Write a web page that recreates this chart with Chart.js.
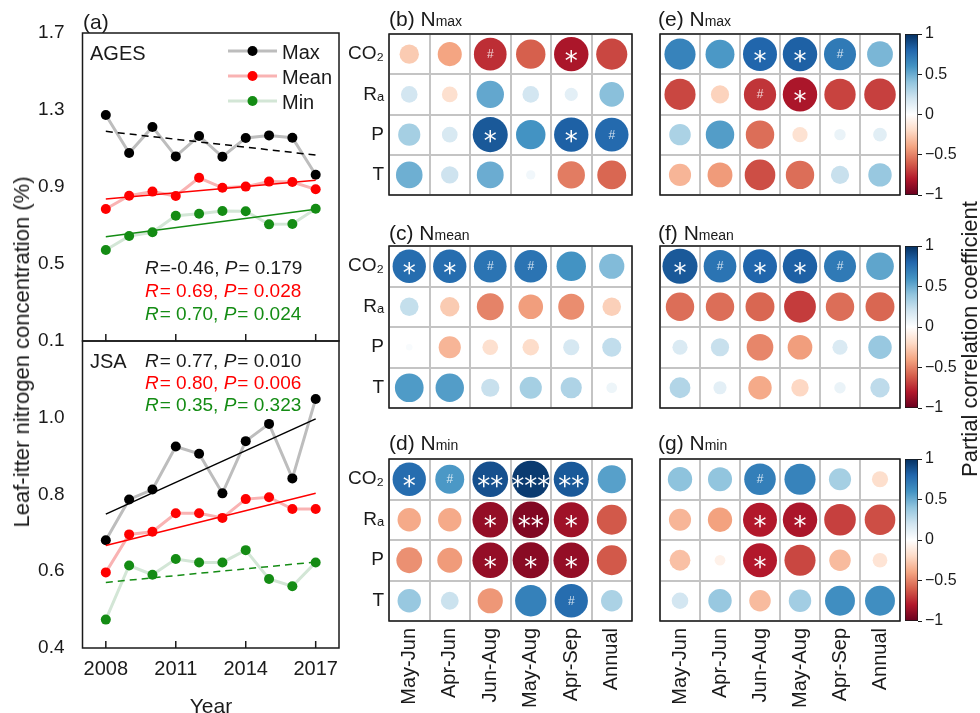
<!DOCTYPE html>
<html>
<head>
<meta charset="utf-8">
<script src="https://cdn.jsdelivr.net/npm/chart.js@4.4.1/dist/chart.umd.min.js"></script>
<style>
  body { margin: 0; background: #fff; }
  #wrap { position: relative; width: 980px; height: 713px; overflow: hidden;
          font-family: "Liberation Sans", Arial, sans-serif; color: #1a1a1a; }
  canvas { position: absolute; }
  .t { position: absolute; white-space: nowrap; line-height: 1; }
  .t i { font-style: italic; margin-right: 1px; }
  .t small { font-size: 14px; }
</style>
</head>
<body>
<div id="wrap">
  <canvas id="aTop" width="345" height="713" style="left:0;top:0"></canvas>
  <canvas id="aBot" width="345" height="713" style="left:0;top:0"></canvas>
</div>
<script>
// ---- panel (a) data ----
const years = [2008, 2009, 2010, 2011, 2012, 2013, 2014, 2015, 2016, 2017];
const yearTicks = [2008, 2011, 2014, 2017];
const trendYears = [2008, 2017];

const agesMax  = [1.274, 1.077, 1.212, 1.059, 1.165, 1.057, 1.155, 1.168, 1.156, 0.964];
const agesMean = [0.786, 0.855, 0.876, 0.853, 0.948, 0.896, 0.902, 0.928, 0.926, 0.888];
const agesMin  = [0.573, 0.645, 0.665, 0.751, 0.761, 0.775, 0.774, 0.706, 0.708, 0.787];
const agesTrendMax  = [1.189, 1.066];
const agesTrendMean = [0.838, 0.935];
const agesTrendMin  = [0.642, 0.784];

const jsaMax  = [0.681, 0.787, 0.813, 0.925, 0.906, 0.803, 0.939, 0.984, 0.842, 1.049];
const jsaMean = [0.597, 0.696, 0.703, 0.751, 0.751, 0.739, 0.788, 0.793, 0.762, 0.762];
const jsaMin  = [0.474, 0.615, 0.591, 0.632, 0.623, 0.623, 0.655, 0.580, 0.561, 0.623];
const jsaTrendMax  = [0.749, 0.997];
const jsaTrendMean = [0.667, 0.803];
const jsaTrendMin  = [0.571, 0.624];

const agesTicks = [0.1, 0.5, 0.9, 1.3, 1.7];
const jsaTicks = [0.4, 0.6, 0.8, 1.0];

// ---- correlation matrices (rows: CO2, Ra, P, T) ----
const rowLabels = ['CO\u2082', 'R\u2090', 'P', 'T'];
const colLabels = ['May-Jun', 'Apr-Jun', 'Jun-Aug', 'May-Aug', 'Apr-Sep', 'Annual'];

const corrB = [[-0.26, -0.40, -0.74, -0.60, -0.82, -0.67],
               [ 0.19, -0.17,  0.52,  0.19,  0.12,  0.42],
               [ 0.34,  0.17,  0.85,  0.60,  0.82,  0.78],
               [ 0.49,  0.21,  0.50,  0.06, -0.52, -0.58]];
const sigB  = [['', '', '#', '', '*', ''], ['', '', '', '', '', ''],
               ['', '', '*', '', '*', '#'], ['', '', '', '', '', '']];

const corrC = [[ 0.77,  0.77,  0.74,  0.74,  0.60,  0.44],
               [ 0.24, -0.26, -0.50, -0.42, -0.47, -0.24],
               [ 0.03, -0.34, -0.17, -0.19,  0.18,  0.25],
               [ 0.57,  0.56,  0.23,  0.34,  0.31,  0.08]];
const sigC  = [['*', '*', '#', '#', '', ''], ['', '', '', '', '', ''],
               ['', '', '', '', '', ''], ['', '', '', '', '', '']];

const corrD = [[ 0.77,  0.58,  0.88,  0.96,  0.85,  0.55],
               [-0.38, -0.38, -0.88, -0.93, -0.85, -0.62],
               [-0.46, -0.43, -0.88, -0.91, -0.88, -0.62],
               [ 0.38,  0.22, -0.44,  0.68,  0.77,  0.32]];
const sigD  = [['*', '#', '**', '***', '**', ''], ['', '', '*', '**', '*', ''],
               ['', '', '*', '*', '*', ''], ['', '', '', '', '#', '']];

const corrE = [[ 0.67,  0.58,  0.80,  0.82,  0.71,  0.46],
               [-0.67, -0.23, -0.72, -0.82, -0.68, -0.69],
               [ 0.32,  0.56, -0.56, -0.16,  0.09,  0.13],
               [-0.34, -0.43, -0.65, -0.56,  0.23,  0.38]];
const sigE  = [['', '', '*', '*', '#', ''], ['', '', '#', '*', '', ''],
               ['', '', '', '', '', ''], ['', '', '', '', '', '']];

const corrF = [[ 0.85,  0.74,  0.80,  0.82,  0.71,  0.53],
               [-0.56, -0.56, -0.58, -0.70, -0.56, -0.58],
               [ 0.16,  0.23, -0.49, -0.42,  0.16,  0.38],
               [ 0.30,  0.12, -0.38, -0.21,  0.09,  0.26]];
const sigF  = [['*', '#', '*', '*', '#', ''], ['', '', '', '', '', ''],
               ['', '', '', '', '', ''], ['', '', '', '', '', '']];

const corrG = [[ 0.41,  0.40,  0.69,  0.67,  0.34, -0.18],
               [-0.34, -0.41, -0.80, -0.82, -0.69, -0.65],
               [-0.30, -0.08, -0.80, -0.67, -0.32, -0.15],
               [ 0.19,  0.38, -0.32,  0.35,  0.62,  0.62]];
const sigG  = [['', '', '#', '', '', ''], ['', '', '*', '*', '', ''],
               ['', '', '*', '', '', ''], ['', '', '', '', '', '']];

const barTicks = [-1, -0.5, 0, 0.5, 1];

// ---- look ----
const FONT = '"Liberation Sans", Arial, sans-serif';
Chart.defaults.font.family = FONT;
Chart.defaults.color = '#1a1a1a';
const wrap = document.getElementById('wrap');
const rdbuStops = ['#67001F', '#B2182B', '#D6604D', '#F4A582', '#FDDBC7', '#FFFFFF',
                   '#D1E5F0', '#92C5DE', '#4393C3', '#2166AC', '#053061'];
const maxR = 19;

function hex(h) {
  return [1, 3, 5].map(i => parseInt(h.slice(i, i + 2), 16));
}
function rdbu(v) {
  const n = rdbuStops.length - 1;
  const t = (Math.max(-1, Math.min(1, v)) + 1) / 2 * n;
  const i = Math.min(Math.floor(t), n - 1), f = t - i;
  const a = hex(rdbuStops[i]), b = hex(rdbuStops[i + 1]);
  return 'rgb(' + a.map((c, k) => Math.round(c + (b[k] - c) * f)).join(',') + ')';
}

function addText(html, x, y, size, opts = {}) {
  const d = document.createElement('div');
  d.className = 't';
  d.innerHTML = html;
  d.style.fontSize = size + 'px';
  if (opts.color) d.style.color = opts.color;
  if (opts.rotate) {
    d.style.left = x + 'px';
    d.style.top = y + 'px';
    d.style.transform = 'translate(-50%,-50%) rotate(-90deg)';
  } else if (opts.center) {
    d.style.left = x + 'px';
    d.style.top = (y - size * 0.47) + 'px';
    d.style.transform = 'translateX(-50%)';
  } else {
    d.style.left = x + 'px';
    d.style.top = (y - size * 0.47) + 'px';
  }
  wrap.appendChild(d);
}

const boxPlugin = {
  id: 'box',
  afterDraw(chart) {
    const { ctx, chartArea: a } = chart;
    ctx.save();
    ctx.strokeStyle = '#1a1a1a';
    ctx.lineWidth = 1.5;
    ctx.strokeRect(a.left, a.top, a.width, a.height);
    ctx.restore();
  }
};

// small inward tick marks on the year axis
const yearTickPlugin = {
  id: 'yearTicks',
  afterDraw(chart) {
    const { ctx, chartArea: a } = chart;
    const xs = chart.scales.x;
    ctx.save();
    ctx.strokeStyle = '#1a1a1a';
    ctx.lineWidth = 1.5;
    yearTicks.forEach(v => {
      const px = xs.getPixelForValue(v);
      ctx.beginPath();
      ctx.moveTo(px, a.bottom);
      ctx.lineTo(px, a.bottom - 7);
      ctx.stroke();
    });
    ctx.restore();
  }
};

// legend marks (line + dot); the words are html text
const legendPlugin = {
  id: 'miniLegend',
  afterDraw(chart) {
    const ctx = chart.ctx;
    ctx.save();
    chart.data.datasets.slice(0, 3).forEach((ds, i) => {
      const y = 51 + 25 * i;
      ctx.strokeStyle = ds.borderColor;
      ctx.lineWidth = 3;
      ctx.beginPath();
      ctx.moveTo(228, y);
      ctx.lineTo(277, y);
      ctx.stroke();
      ctx.fillStyle = ds.pointBackgroundColor;
      ctx.beginPath();
      ctx.arc(252.5, y, 5, 0, Math.PI * 2);
      ctx.fill();
    });
    ctx.restore();
  }
};

function seriesSet(vals, line, dot) {
  return {
    data: years.map((x, i) => ({ x, y: vals[i] })),
    borderColor: line, borderWidth: 3,
    pointBackgroundColor: dot, pointBorderColor: dot,
    pointRadius: 5, pointBorderWidth: 0, order: 2
  };
}
function trendSet(vals, color, dashed) {
  return {
    data: trendYears.map((x, i) => ({ x, y: vals[i] })),
    borderColor: color, borderWidth: 1.5,
    borderDash: dashed ? [7, 5] : [],
    pointRadius: 0, order: 1
  };
}

const RED = '#ff0000', GREEN = '#148c14';

function linePanel(id, sets, ticks, min, max, padTop, padBottom, showX, extra) {
  return new Chart(document.getElementById(id), {
    type: 'line',
    data: { datasets: sets },
    options: {
      responsive: false, animation: false, events: [],
      layout: { autoPadding: false, padding: { top: padTop, bottom: padBottom, left: 0, right: 6 } },
      plugins: { legend: { display: false }, tooltip: { enabled: false } },
      scales: {
        x: {
          type: 'linear', min: 2007, max: 2018, display: showX,
          afterBuildTicks: s => { s.ticks = yearTicks.map(v => ({ value: v })); },
          afterFit: s => { s.height = showX ? 65 : 0; },
          grid: { display: false }, border: { display: false },
          ticks: { font: { size: 20 }, padding: 1, maxRotation: 0, autoSkip: false,
                   callback: v => String(v) }
        },
        y: {
          min, max,
          afterBuildTicks: s => { s.ticks = ticks.map(v => ({ value: v })); },
          afterFit: s => { s.width = 82.5; },
          grid: { display: false }, border: { display: false },
          ticks: { font: { size: 19 }, padding: 10, callback: v => v.toFixed(1) }
        }
      }
    },
    plugins: [boxPlugin, yearTickPlugin].concat(extra || [])
  });
}

linePanel('aTop', [
  seriesSet(agesMax, '#bdbdbd', '#000000'),
  seriesSet(agesMean, '#f9b3b3', RED),
  seriesSet(agesMin, '#d3e6d6', GREEN),
  trendSet(agesTrendMax, '#000000', true),
  trendSet(agesTrendMean, RED, false),
  trendSet(agesTrendMin, GREEN, false)
], agesTicks, 0.1, 1.7, 33, 372, false, [legendPlugin]);

linePanel('aBot', [
  seriesSet(jsaMax, '#bdbdbd', '#000000'),
  seriesSet(jsaMean, '#f9b3b3', RED),
  seriesSet(jsaMin, '#d3e6d6', GREEN),
  trendSet(jsaTrendMax, '#000000', false),
  trendSet(jsaTrendMean, RED, false),
  trendSet(jsaTrendMin, GREEN, true)
], jsaTicks, 0.4, 1.2, 341, 0, true);

// significance marks drawn on top of the bubbles
const sigPlugin = {
  id: 'sig',
  afterDatasetsDraw(chart) {
    const ctx = chart.ctx;
    const pts = chart.data.datasets[0].data;
    ctx.save();
    ctx.fillStyle = '#ffffff';
    ctx.textAlign = 'center';
    ctx.textBaseline = 'alphabetic';
    chart.getDatasetMeta(0).data.forEach((el, i) => {
      const s = pts[i].s;
      if (!s) return;
      if (s === '#') {
        ctx.globalAlpha = 0.8;
        ctx.font = '12px ' + FONT;
        ctx.fillText('#', el.x, el.y + 4);
        ctx.globalAlpha = 1;
        return;
      }
      ctx.font = '26px "DejaVu Sans"';
      const n = s.length;
      for (let k = 0; k < n; k++) {
        ctx.fillText('*', el.x + (k - (n - 1) / 2) * 13, el.y + 15.5);
      }
    });
    ctx.restore();
  }
};

function matrixPanel(box, vals, sig, showRows, showCols) {
  const axisW = 60, pad = 4, axisH = showCols ? 88 : 0;
  const cv = document.createElement('canvas');
  cv.width = axisW + box.w + pad;
  cv.height = pad + box.h + (showCols ? axisH : pad);
  cv.style.left = (box.x - axisW) + 'px';
  cv.style.top = (box.y - pad) + 'px';
  wrap.appendChild(cv);

  const points = [];
  vals.forEach((row, i) => row.forEach((v, j) => {
    points.push({ x: colLabels[j], y: rowLabels[i], r: maxR * Math.sqrt(Math.abs(v)), v, s: sig[i][j] });
  }));

  const grid = { offset: true, color: '#c4c4c4', lineWidth: 2, drawTicks: false };
  new Chart(cv, {
    type: 'bubble',
    data: {
      datasets: [{
        data: points,
        backgroundColor: c => (c.raw ? rdbu(c.raw.v) : '#ffffff'),
        borderWidth: 0
      }]
    },
    options: {
      responsive: false, animation: false, events: [],
      layout: { autoPadding: false, padding: { top: pad, right: pad, bottom: showCols ? 0 : pad, left: 0 } },
      plugins: { legend: { display: false }, tooltip: { enabled: false } },
      scales: {
        x: {
          type: 'category', labels: colLabels, offset: true, grid,
          border: { display: false },
          ticks: { display: showCols, autoSkip: false, minRotation: 90, maxRotation: 90,
                   font: { size: 20 }, padding: 7 },
          afterFit: s => { s.height = axisH; s.paddingLeft = 0; s.paddingRight = 0; }
        },
        y: {
          type: 'category', labels: rowLabels, offset: true, grid,
          border: { display: false },
          ticks: { display: showRows, font: { size: 19 }, padding: 5 },
          afterFit: s => { s.width = axisW; s.paddingTop = 0; s.paddingBottom = 0; }
        }
      }
    },
    plugins: [boxPlugin, sigPlugin]
  });
}

function colorBar(box) {
  const left = 900, pad = 10, barW = 13;
  const cv = document.createElement('canvas');
  cv.width = 80;
  cv.height = box.h + pad * 2;
  cv.style.left = left + 'px';
  cv.style.top = (box.y - pad) + 'px';
  wrap.appendChild(cv);
  new Chart(cv, {
    type: 'bar',
    data: {
      labels: [''],
      datasets: [{
        data: [[-1, 1]],
        backgroundColor: c => {
          const a = c.chart.chartArea;
          if (!a) return '#ffffff';
          const g = c.chart.ctx.createLinearGradient(0, a.bottom, 0, a.top);
          rdbuStops.forEach((col, i) => g.addColorStop(i / (rdbuStops.length - 1), col));
          return g;
        },
        borderColor: '#1a1a1a', borderWidth: 1, borderSkipped: false,
        barPercentage: 1, categoryPercentage: 1
      }]
    },
    options: {
      responsive: false, animation: false, events: [],
      layout: { autoPadding: false, padding: { top: pad, bottom: pad, left: box.x - left, right: 0 } },
      plugins: { legend: { display: false }, tooltip: { enabled: false } },
      scales: {
        x: { display: false },
        y: {
          position: 'right', min: -1, max: 1,
          afterBuildTicks: s => { s.ticks = barTicks.map(v => ({ value: v })); },
          afterFit: s => { s.width = 80 - (box.x - left) - barW; s.paddingTop = 0; s.paddingBottom = 0; },
          grid: { drawOnChartArea: false, tickLength: 4, color: '#1a1a1a', lineWidth: 1 },
          border: { display: false },
          ticks: { font: { size: 16 }, padding: 3,
                   callback: v => (v === 0 ? '0' : (v < 0 ? '\u2212' : '') + Math.abs(v)) }
        }
      }
    }
  });
}

const boxB = { x: 389, y: 34, w: 243, h: 161 };
const boxC = { x: 389, y: 246, w: 243, h: 162 };
const boxD = { x: 389, y: 459, w: 243, h: 162 };
const boxE = { x: 660, y: 34, w: 240, h: 161 };
const boxF = { x: 660, y: 246, w: 240, h: 162 };
const boxG = { x: 660, y: 459, w: 240, h: 162 };

matrixPanel(boxB, corrB, sigB, true, false);
matrixPanel(boxC, corrC, sigC, true, false);
matrixPanel(boxD, corrD, sigD, true, true);
matrixPanel(boxE, corrE, sigE, false, false);
matrixPanel(boxF, corrF, sigF, false, false);
matrixPanel(boxG, corrG, sigG, false, true);
colorBar({ x: 905, y: 34, h: 161 });
colorBar({ x: 905, y: 246, h: 162 });
colorBar({ x: 905, y: 459, h: 162 });

// ---- text ----
addText('(a)', 83, 21, 21);
addText('AGES', 90, 52.5, 20);
addText('JSA', 90, 360, 20);
addText('Max', 282, 51, 20);
addText('Mean', 282, 76, 20);
addText('Min', 282, 101, 20);
addText('<i>R</i>=-0.46, <i>P</i>= 0.179', 145, 266.5, 19);
addText('<i>R</i>= 0.69, <i>P</i>= 0.028', 145, 290, 19, { color: RED });
addText('<i>R</i>= 0.70, <i>P</i>= 0.024', 145, 313, 19, { color: GREEN });
addText('<i>R</i>= 0.77, <i>P</i>= 0.010', 145, 360, 19);
addText('<i>R</i>= 0.80, <i>P</i>= 0.006', 145, 381.7, 19, { color: RED });
addText('<i>R</i>= 0.35, <i>P</i>= 0.323', 145, 403.5, 19, { color: GREEN });
addText('Leaf-itter nitrogen concentration (%)', 22, 352, 22, { rotate: true });
addText('Year', 211, 705, 21, { center: true });
addText('(b) N<small>max</small>', 389, 18, 21);
addText('(c) N<small>mean</small>', 389, 231.5, 21);
addText('(d) N<small>min</small>', 389, 441.5, 21);
addText('(e) N<small>max</small>', 658, 18, 21);
addText('(f) N<small>mean</small>', 658, 231.5, 21);
addText('(g) N<small>min</small>', 658, 441.5, 21);
addText('Partial correlation coefficient', 970, 339, 22, { rotate: true });
</script>
</body>
</html>
